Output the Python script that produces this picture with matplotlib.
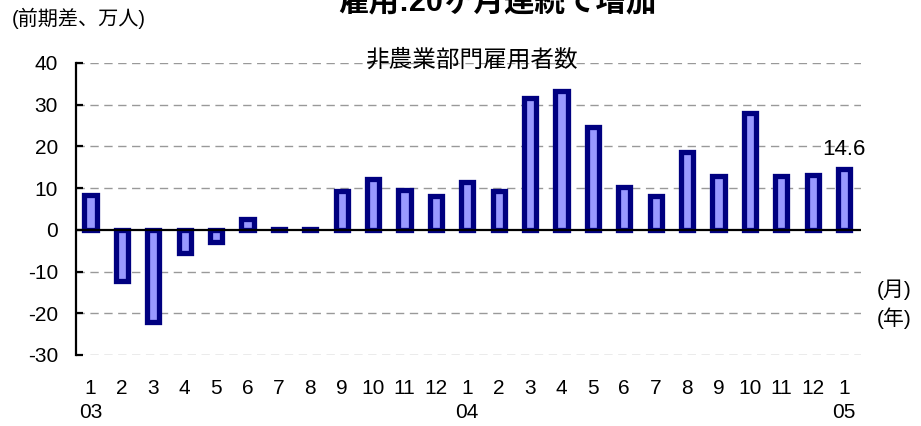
import matplotlib.pyplot as plt
from matplotlib.transforms import blended_transform_factory

plt.rcParams['font.family'] = ['Liberation Sans', 'Noto Sans CJK JP', 'DejaVu Sans']

# 非農業部門雇用者数 前期差(万人), 2003/1 - 2005/1
months = ['1', '2', '3', '4', '5', '6', '7', '8', '9', '10', '11', '12',
          '1', '2', '3', '4', '5', '6', '7', '8', '9', '10', '11', '12', '1']
years = {0: '03', 12: '04', 24: '05'}
values = [8.4, -12.3, -22.0, -5.6, -2.9, 2.5, 0.2, 0.1, 9.2, 12.2, 9.5, 8.1,
          11.5, 9.2, 31.7, 33.4, 24.7, 10.3, 8.0, 18.6, 12.8, 27.9, 13.0, 13.1, 14.6]
yticks = [-30, -20, -10, 0, 10, 20, 30, 40]

fig = plt.figure(figsize=(9.21, 4.26), dpi=100)
ax = fig.add_axes([76 / 921, 71 / 426, 785 / 921, 292 / 426])

x = list(range(len(values)))
ax.bar(x, values, width=0.39, color='#9999ff', edgecolor='#000080', linewidth=3.8, zorder=3)
ax.axhline(0, color='black', linewidth=1.6, zorder=4)

ax.set_xlim(-0.46, 24.54)
ax.set_ylim(-30, 40)
ax.set_yticks(yticks)
ax.set_yticklabels([str(v) for v in yticks], fontsize=15)
for v in yticks:
    if v != 0:
        ax.axhline(v, color='#999999', linewidth=1, dashes=(6, 4), zorder=1)

ax.set_xticks(x)
ax.set_xticklabels(months, fontsize=15)
ax.tick_params(axis='x', length=0, pad=17)
ax.tick_params(axis='y', direction='in', length=5, width=1.6, pad=13)

for s in ['top', 'right', 'bottom']:
    ax.spines[s].set_visible(False)
ax.spines['left'].set_linewidth(1.6)

trans = blended_transform_factory(ax.transData, fig.transFigure)
for i, yr in years.items():
    ax.text(i, 1 - 413 / 426, yr, transform=trans, ha='center', va='center', fontsize=15)

ax.annotate(f'{values[-1]}', xy=(x[-1], values[-1]), xytext=(0, 10), textcoords='offset points',
            ha='center', va='baseline', fontsize=16)

fig.text(471 / 921, 1 - 60 / 426, '非農業部門雇用者数', ha='center', va='center', fontsize=17)
fig.text(497 / 921, 1 - 2 / 426, '雇用:20ヶ月連続で増加', ha='center', va='center',
         fontsize=22, fontweight='bold')
fig.text(12 / 921, 1 - 18 / 426, '(前期差、万人)', ha='left', va='center', fontsize=14.5)
fig.text(877 / 921, 1 - 290 / 426, '(月)', ha='left', va='center', fontsize=15)
fig.text(877 / 921, 1 - 318 / 426, '(年)', ha='left', va='center', fontsize=15)

fig.savefig('out.png', dpi=100)
